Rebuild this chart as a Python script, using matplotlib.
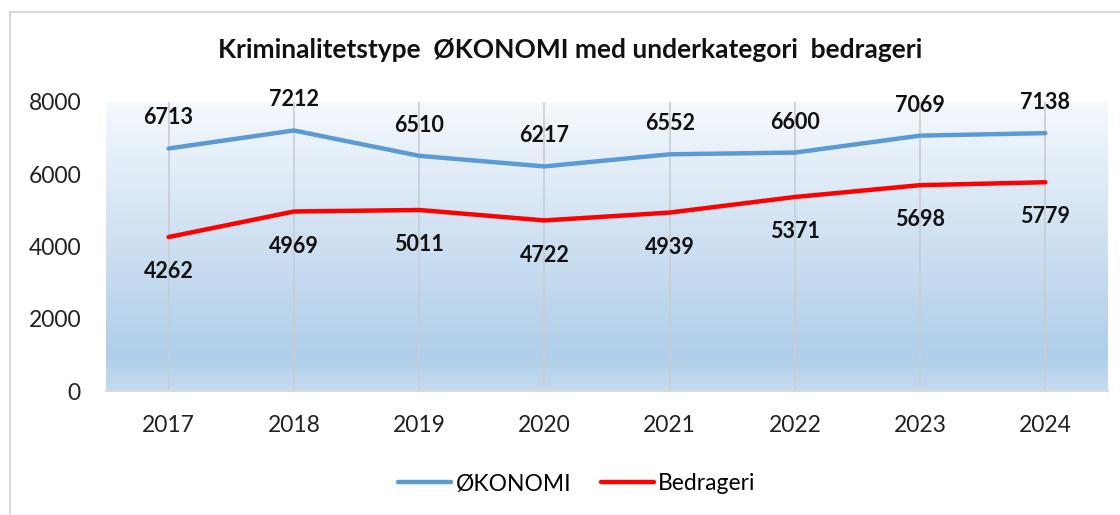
import numpy as np
import matplotlib.pyplot as plt
from matplotlib.colors import LinearSegmentedColormap
from matplotlib.patches import Rectangle

years = ['2017', '2018', '2019', '2020', '2021', '2022', '2023', '2024']
okonomi = [6713, 7212, 6510, 6217, 6552, 6600, 7069, 7138]
bedrageri = [4262, 4969, 5011, 4722, 4939, 5371, 5698, 5779]
yticks = [0, 2000, 4000, 6000, 8000]

plt.rcParams['font.family'] = ['Lato', 'DejaVu Sans']

fig = plt.figure(figsize=(11.2, 5.15), dpi=100)
ax = fig.add_axes([106/1120, 1-391/515, (1108-106)/1120, (391-102)/515])

# chart border (Excel style)
fig.patches.append(Rectangle((10/1120, -0.05), 1.2, 1-12/515+0.05, transform=fig.transFigure,
                             fill=False, edgecolor='#d9d9d9', linewidth=1.5))

x = np.arange(len(years))

# gradient plot area background
cmap = LinearSegmentedColormap.from_list('bg', [(0, '#c4dbf0'), (0.12, '#b0cee9'),
                                                (0.5, '#cddff1'), (1, '#f5f9fd')])
grad = np.linspace(0, 1, 256).reshape(-1, 1)
ax.imshow(grad, extent=[-0.5, len(years)-0.5, 0, 8000], origin='lower', cmap=cmap,
          aspect='auto', zorder=0)

# vertical drop lines
for xi in x:
    ax.axvline(xi, color='#c8ccd2', linewidth=1.2, zorder=1)

ax.plot(x, okonomi, color='#5b9bd5', linewidth=3.2, solid_capstyle='round', label='ØKONOMI', zorder=3)
ax.plot(x, bedrageri, color='#ff0000', linewidth=3.2, solid_capstyle='round', label='Bedrageri', zorder=3)

for xi, v in zip(x, okonomi):
    ax.annotate(str(v), (xi, v), xytext=(0, 22), textcoords='offset points', ha='center',
                va='center', fontsize=15.5, fontweight='bold', color='#111111')
for xi, v in zip(x, bedrageri):
    ax.annotate(str(v), (xi, v), xytext=(0, -25), textcoords='offset points', ha='center',
                va='center', fontsize=15.5, fontweight='bold', color='#111111')

ax.set_xlim(-0.5, len(years)-0.5)
ax.set_ylim(0, 8000)
ax.set_xticks(x)
ax.set_xticklabels(years)
ax.set_yticks(yticks)
ax.tick_params(axis='both', length=0, labelsize=16.5, colors='#222222')
ax.tick_params(axis='x', pad=17)
ax.tick_params(axis='y', pad=18)
for side in ['top', 'right', 'left']:
    ax.spines[side].set_visible(False)
ax.spines['bottom'].set_color('#d9d9d9')
ax.spines['bottom'].set_linewidth(1.5)

fig.text(0.509, 1-50/515, 'Kriminalitetstype  ØKONOMI med underkategori  bedrageri',
         ha='center', va='center', fontsize=19, fontweight='bold', color='#111111')

fig.legend(loc='center', bbox_to_anchor=(0.515, 1-484/515), ncol=2, frameon=False,
           fontsize=16.5, handlelength=2.3, handletextpad=0.2, columnspacing=1.3)

fig.savefig('out.png', dpi=100)
